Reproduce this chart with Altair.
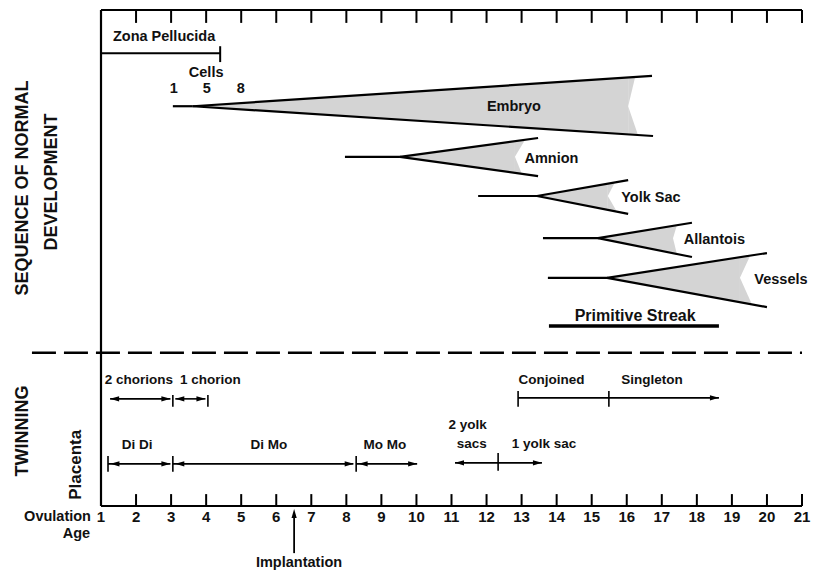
import altair as alt
import pandas as pd

# x = ovulation age (days), y = vertical position in the diagram (0 = top frame, 100 = bottom axis)
tick_days = list(range(1, 22))

# developmental wedges
w_name = ["Embryo", "Amnion", "Yolk Sac", "Allantois", "Vessels"]
w_start = [3.05, 7.96, 11.76, 13.61, 13.75]
w_apex = [3.62, 9.53, 13.44, 15.18, 15.44]
w_mid = [19.4, 29.6, 37.5, 46.0, 54.0]
w_top_x = [16.72, 13.47, 16.04, 17.86, 20.0]
w_top_y = [13.3, 25.8, 34.3, 42.9, 49.0]
w_bot_x = [16.75, 13.47, 16.04, 17.86, 20.0]
w_bot_y = [25.4, 33.5, 41.1, 49.8, 59.9]
shade_top = [16.24, 13.10, 15.66, 17.43, 19.52]
shade_mid = [16.04, 12.81, 15.46, 17.32, 19.23]
shade_bot = [16.32, 13.01, 15.72, 17.43, 19.57]

# plain line segments (x1, x2, y1, y2)
seg_x1 = [1.0, 4.4]
seg_x2 = [4.4, 4.4]
seg_y1 = [8.7, 7.3]
seg_y2 = [8.7, 10.5]

streak = [13.78, 18.63, 63.7]

# twinning lines
arrow_x1 = [1.26, 3.12, 1.2, 3.05, 8.28, 11.1, 12.9]
arrow_x2 = [2.98, 3.98, 2.98, 8.2, 10.02, 13.58, 18.63]
arrow_y = [78.4, 78.4, 91.5, 91.5, 91.5, 91.3, 78.2]
bar_x = [3.05, 4.05, 1.2, 3.05, 8.28, 12.33, 12.9, 15.49]
bar_y1 = [77.6, 77.6, 89.9, 89.9, 89.9, 89.3, 76.8, 76.8]
bar_y2 = [80.0, 80.0, 93.1, 93.1, 93.1, 92.9, 80.0, 80.0]
head_x = [1.26, 2.98, 3.12, 3.98, 1.27, 2.98, 3.12, 8.21, 8.35, 10.02, 11.1, 13.58, 18.63, 6.51]
head_y = [78.4, 78.4, 78.4, 78.4, 91.5, 91.5, 91.5, 91.5, 91.5, 91.5, 91.3, 91.3, 78.2, 100.6]
head_dir = ["L", "R", "L", "R", "L", "R", "L", "R", "L", "R", "L", "R", "R", "U"]
implant = [6.51, 109.5, 101.5]

divider = [-0.97, 21.0, 69.1]

# labels (development part and axis captions)
lab_text = ["Zona Pellucida", "Cells", "1", "5", "8", "Embryo", "Amnion", "Yolk Sac",
            "Allantois", "Vessels", "Implantation", "Ovulation", "Age"]
lab_x = [2.80, 4.00, 3.08, 4.02, 4.99, 12.78, 13.85, 16.69, 18.50, 20.40, 6.65, -0.24, 0.30]
lab_y = [5.4, 12.7, 15.9, 15.9, 15.9, 19.6, 30.0, 37.9, 46.4, 54.4, 111.4, 102.2, 105.6]
# labels (twinning part)
tw_text = ["2 chorions", "1 chorion", "Conjoined", "Singleton", "2 yolk", "sacs",
           "1 yolk sac", "Di  Di", "Di  Mo", "Mo  Mo"]
tw_x = [2.08, 4.12, 13.85, 16.72, 11.46, 11.58, 13.64, 2.03, 5.79, 9.10]
tw_y = [74.6, 74.6, 74.6, 74.6, 83.7, 87.5, 87.5, 87.7, 87.7, 87.7]
streak_label = ["Primitive Streak", 16.24, 61.7]

vt_text = ["SEQUENCE OF NORMAL", "DEVELOPMENT", "TWINNING"]
vt_x = [-1.225, -0.40, -1.225]
vt_y = [35.9, 34.7, 84.9]
placenta_label = ["Placenta", 0.287, 91.7]

FONT = "Liberation Sans"
xs = alt.Scale(domain=[1, 21], nice=False, zero=False)
ys = alt.Scale(domain=[0, 100], reverse=True, nice=False, zero=False)


def X(f):
    return alt.X(f, type="quantitative", scale=xs, axis=None)


def Y(f):
    return alt.Y(f, type="quantitative", scale=ys, axis=None, stack=None)


# ---- build tables
wedge_lines = []
shade_rows = []
for i, n in enumerate(w_name):
    wedge_lines.append(dict(x1=w_start[i], x2=w_apex[i], y1=w_mid[i], y2=w_mid[i]))
    wedge_lines.append(dict(x1=w_apex[i], x2=w_top_x[i], y1=w_mid[i], y2=w_top_y[i]))
    wedge_lines.append(dict(x1=w_apex[i], x2=w_bot_x[i], y1=w_mid[i], y2=w_bot_y[i]))

    def top(x, i=i):
        return w_mid[i] + (w_top_y[i] - w_mid[i]) * (x - w_apex[i]) / (w_top_x[i] - w_apex[i])

    def bot(x, i=i):
        return w_mid[i] + (w_bot_y[i] - w_mid[i]) * (x - w_apex[i]) / (w_bot_x[i] - w_apex[i])

    sm, st, sb = shade_mid[i], shade_top[i], shade_bot[i]
    shade_rows += [
        dict(g=n + "-m", x=w_apex[i], y=w_mid[i], y2=w_mid[i]),
        dict(g=n + "-m", x=sm, y=top(sm), y2=bot(sm)),
        dict(g=n + "-u", x=sm, y=top(sm), y2=w_mid[i]),
        dict(g=n + "-u", x=st, y=top(st), y2=top(st)),
        dict(g=n + "-l", x=sm, y=w_mid[i], y2=bot(sm)),
        dict(g=n + "-l", x=sb, y=bot(sb), y2=bot(sb)),
    ]

frame = pd.DataFrame(dict(x1=[1, 1, 1], x2=[21, 1, 21], y1=[0, 0, 100], y2=[0, 100, 100]))
frame_ticks = pd.DataFrame(
    dict(x1=tick_days[1:] * 2, x2=tick_days[1:] * 2,
         y1=[0] * 20 + [97.6] * 20,
         y2=[2.6] * 20 + [100] * 20))

segs = pd.DataFrame(dict(x1=seg_x1, x2=seg_x2, y1=seg_y1, y2=seg_y2))
arrows = pd.DataFrame(dict(x1=arrow_x1, x2=arrow_x2, y1=arrow_y, y2=arrow_y))
bars = pd.DataFrame(dict(x1=bar_x, x2=bar_x, y1=bar_y1, y2=bar_y2))
implant_df = pd.DataFrame(dict(x1=[implant[0]], x2=[implant[0]], y1=[implant[1]], y2=[implant[2]]))
heads = pd.DataFrame(dict(x=head_x, y=head_y, d=head_dir))


def rules(df, width=2.0, **kw):
    return alt.Chart(df).mark_rule(strokeWidth=width, color="black", **kw).encode(
        x=X("x1"), x2=alt.X2("x2"), y=Y("y1"), y2=alt.Y2("y2"))


def texts(t, x, y, size, angle=0):
    return alt.Chart(pd.DataFrame(dict(t=t, x=x, y=y))).mark_text(
        font=FONT, fontSize=size, fontWeight="bold", color="#111", angle=angle,
        baseline="middle", align="center").encode(x=X("x"), y=Y("y"), text="t:N")


shade = alt.Chart(pd.DataFrame(shade_rows)).mark_area(
    orient="vertical", color="#d4d4d4", opacity=1, interpolate="linear").encode(
    x=X("x"), y=Y("y"), y2=alt.Y2("y2"), detail="g:N")

wedge = rules(pd.DataFrame(wedge_lines), 2.2)

divider_layer = rules(pd.DataFrame(dict(x1=[divider[0]], x2=[divider[1]], y1=[divider[2]], y2=[divider[2]])),
                      2.6, strokeDash=[24, 8])
streak_layer = rules(pd.DataFrame(dict(x1=[streak[0]], x2=[streak[1]], y1=[streak[2]], y2=[streak[2]])), 3.5)

head_layer = alt.Chart(heads).mark_point(filled=True, opacity=1, color="black", size=16, strokeWidth=0).encode(
    x=X("x"), y=Y("y"),
    shape=alt.Shape("d:N", legend=None, scale=alt.Scale(
        domain=["L", "R", "U"],
        range=["M0,0L4.5,-1.3L4.5,1.3Z", "M0,0L-4.5,-1.3L-4.5,1.3Z", "M0,0L-1.3,4.5L1.3,4.5Z"])))

chart = alt.layer(
    shade, wedge,
    rules(frame, 2.2), rules(frame_ticks, 2.0),
    divider_layer, rules(segs, 2.0), streak_layer,
    rules(arrows, 1.6), rules(bars, 1.6), rules(implant_df, 1.8),
    head_layer,
    texts(lab_text, lab_x, lab_y, 14.5),
    texts(tw_text, tw_x, tw_y, 13.5),
    texts([streak_label[0]], [streak_label[1]], [streak_label[2]], 16),
    texts([str(d) for d in tick_days], tick_days, [102.2] * len(tick_days), 15),
    texts(vt_text, vt_x, vt_y, 18, 270),
    texts([placenta_label[0]], [placenta_label[1]], [placenta_label[2]], 17, 270),
).properties(
    width=701, height=496,
    autosize=alt.AutoSizeParams(type="none"),
    padding={"left": 93, "top": 2, "right": 10, "bottom": 70},
).configure_view(stroke=None)

chart.save("out.html", embed_options={"renderer": "svg", "actions": False})
